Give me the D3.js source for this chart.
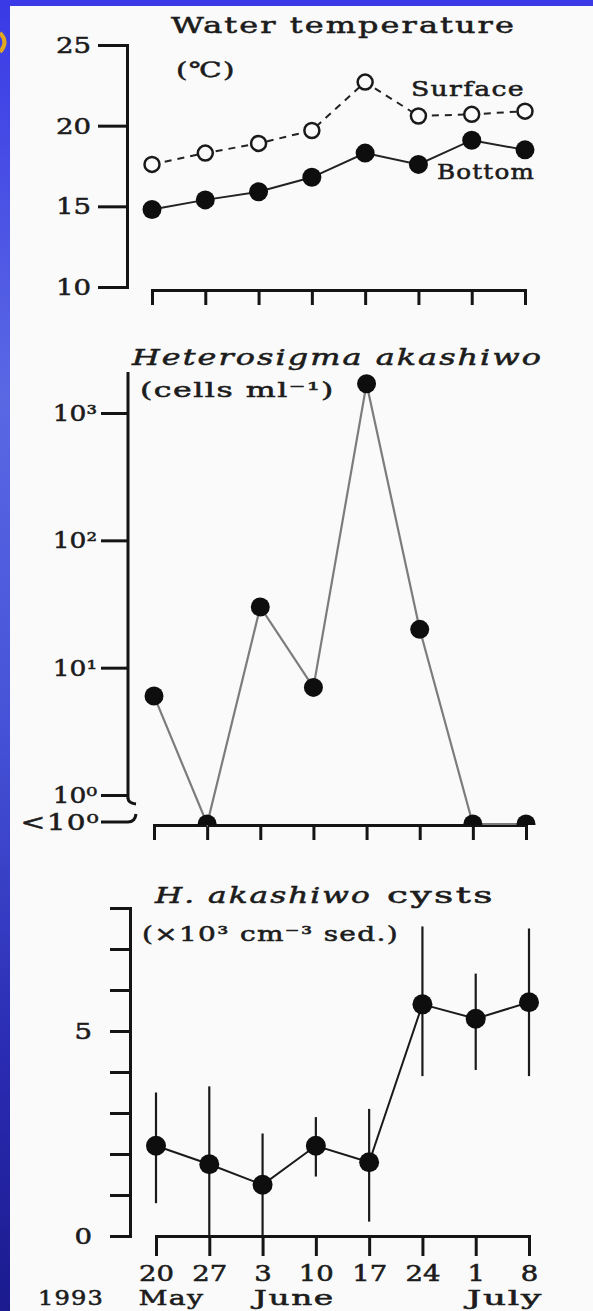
<html>
<head>
<script src="https://cdn.jsdelivr.net/npm/d3@7"></script>
<style>
    body { margin: 0; background: #2c34d4; }
    svg { display: block; }
    text { font-family: 'DejaVu Serif', serif; fill: #1c1c1c; stroke: #1c1c1c; stroke-width: 0.55px; }
    .axis path, .axis line { stroke: #141414; stroke-width: 3; fill: none; }
    .axis text { font-family: 'DejaVu Serif', serif; font-size: 23px; fill: #1c1c1c; stroke: #1c1c1c; stroke-width: 0.55px; }
    .title { font-size: 23px; letter-spacing: 1.5px; }
    .italic { font-style: italic; }
    .unit { font-size: 21px; letter-spacing: 1px; }
</style>
</head>
<body>
<svg id='fig' width=593 height=1311></svg>
<script>

    // ---- data ----
    var dates = ['20', '27', '3', '10', '17', '24', '1', '8'];
    var months = [{name: 'May', at: 0, w: 66}, {name: 'June', at: 2, w: 81}, {name: 'July', at: 6, w: 76}];

    var surfaceTemp = [17.6, 18.3, 18.9, 19.7, 22.7, 20.6, 20.7, 20.9];
    var bottomTemp  = [14.8, 15.4, 15.9, 16.8, 18.3, 17.6, 19.1, 18.5];
    var tempTicks   = [10, 15, 20, 25];

    // 0 means "< 10^0" (plotted on the axis)
    var cellCounts = [6, 0, 30, 7, 1700, 20, 0, 0];
    var cellTicks  = [1, 10, 100, 1000];
    var cellLabels = ['10⁰', '10¹', '10²', '10³'];

    var cystMean = [2.2, 1.75, 1.25, 2.2, 1.8, 5.65, 5.3, 5.7];
    var cystHigh = [3.5, 3.65, 2.5, 2.9, 3.1, 7.55, 6.4, 7.5];
    var cystLow  = [0.8, 0, 0, 1.45, 0.35, 3.9, 4.05, 3.9];
    var cystTicks = d3.range(0, 9);

    var svg = d3.select('#fig');

    // slide background + white sheet
    var grad = svg.append('defs').append('linearGradient')
        .attr('id', 'bg').attr('x1', 0).attr('y1', 0).attr('x2', 0).attr('y2', 1);
    [['0', '#3a3ae6'], ['0.3', '#5a68e4'], ['0.55', '#4653d8'], ['0.8', '#2a2cb4'], ['1', '#1b1b8e']]
        .forEach(function(s) { grad.append('stop').attr('offset', s[0]).attr('stop-color', s[1]); });
    svg.append('rect').attr('width', 593).attr('height', 1311).attr('fill', 'url(#bg)');
    svg.append('rect').attr('x', 10).attr('y', 6).attr('width', 583).attr('height', 1305).attr('fill', '#fafafa');
    svg.append('path').attr('d', 'M0,33 Q9,42 0,52').attr('fill', 'none')
        .attr('stroke', '#e0a820').attr('stroke-width', 4);

    // the original uses a wide mincho face: stretch glyphs horizontally
    function label(x, y, txt, cls, width, anchor) {
        var t = svg.append('text').attr('class', cls)
            .attr('text-anchor', anchor || 'start').text(txt);
        var k = width / t.node().getComputedTextLength();
        t.attr('transform', 'translate(' + x + ',' + y + ') scale(' + k + ',1)');
        return t;
    }
    function widen(sel, k) {
        sel.each(function() {
            var t = d3.select(this);
            var x = +t.attr('x') || 0, y = +t.attr('y') || 0;
            t.attr('x', 0).attr('y', 0)
             .attr('transform', 'translate(' + x + ',' + y + ') scale(' + k + ',1)');
        });
    }

    // ================= panel 1 : water temperature =================
    var xTemp = d3.scaleLinear().domain([0, 7]).range([152, 525]);
    var yTemp = d3.scaleLinear().domain([10, 25]).range([287, 45]);

    var yAx1 = svg.append('g').attr('class', 'axis').attr('transform', 'translate(127,0)')
        .call(d3.axisLeft(yTemp).tickValues(tempTicks).tickSize(29).tickPadding(7));
    widen(yAx1.selectAll('text'), 1.2);

    svg.append('g').attr('class', 'axis').attr('transform', 'translate(0,290)')
        .call(d3.axisBottom(xTemp).tickValues(d3.range(8)).tickSize(15).tickFormat(''));

    var lineT = d3.line().x(function(d, i) { return xTemp(i); }).y(function(d) { return yTemp(d); });

    svg.append('path').datum(surfaceTemp).attr('d', lineT)
        .attr('fill', 'none').attr('stroke', '#222').attr('stroke-width', 2).attr('stroke-dasharray', '7,6');
    svg.append('path').datum(bottomTemp).attr('d', lineT)
        .attr('fill', 'none').attr('stroke', '#222').attr('stroke-width', 2);

    svg.selectAll('.surf').data(surfaceTemp).enter().append('circle').attr('class', 'surf')
        .attr('cx', function(d, i) { return xTemp(i); })
        .attr('cy', function(d) { return yTemp(d); })
        .attr('r', 7.5).attr('fill', '#fafafa').attr('stroke', '#1a1a1a').attr('stroke-width', 2.5);
    svg.selectAll('.bot').data(bottomTemp).enter().append('circle').attr('class', 'bot')
        .attr('cx', function(d, i) { return xTemp(i); })
        .attr('cy', function(d) { return yTemp(d); })
        .attr('r', 9.5).attr('fill', '#0e0e0e');

    label(171, 33, 'Water temperature', 'title', 345);
    label(176, 77, '(℃)', 'unit', 60);
    label(411, 96, 'Surface', 'unit', 114);
    label(437, 179, 'Bottom', 'unit', 98);

    // ================= panel 2 : Heterosigma akashiwo =================
    var xCell = d3.scaleLinear().domain([0, 7]).range([154, 526]);
    var yCell = d3.scaleLog().domain([1, 2100]).range([795, 372]);
    var floorY = 825;

    var yAx2 = svg.append('g').attr('class', 'axis').attr('transform', 'translate(128,0)')
        .call(d3.axisLeft(yCell).tickValues(cellTicks).tickSize(27).tickPadding(4)
            .tickFormat(function(d, i) { return cellLabels[i]; }));
    yAx2.select('.domain').attr('d', 'M0,' + yCell.range()[1] + 'V' + (yCell(1) + 4));
    widen(yAx2.selectAll('text'), 1.15);

    // axis break marks
    svg.append('path')
        .attr('d', 'M128,' + (yCell(1) + 3) + 'q0,5 8,6')
        .attr('fill', 'none').attr('stroke', '#141414').attr('stroke-width', 3);
    svg.append('path')
        .attr('d', 'M101,' + (floorY - 3) + 'H128q7,0 8,-8')
        .attr('fill', 'none').attr('stroke', '#141414').attr('stroke-width', 3);
    label(100, floorY + 5, '<10⁰', 'unit', 73, 'end').style('font-size', '23px');

    svg.append('g').attr('class', 'axis').attr('transform', 'translate(0,' + floorY + ')')
        .call(d3.axisBottom(xCell).tickValues(d3.range(8)).tickSize(15).tickFormat(''));

    var cellY = function(d) { return d > 0 ? yCell(d) : floorY - 1; };

    svg.append('path').datum(cellCounts)
        .attr('d', d3.line().x(function(d, i) { return xCell(i); }).y(cellY))
        .attr('fill', 'none').attr('stroke', '#7c7c7c').attr('stroke-width', 2.2);

    svg.append('clipPath').attr('id', 'aboveFloor').append('rect')
        .attr('x', 0).attr('y', 0).attr('width', 593).attr('height', floorY);

    svg.append('g').attr('clip-path', 'url(#aboveFloor)')
        .selectAll('circle').data(cellCounts).enter().append('circle')
        .attr('cx', function(d, i) { return xCell(i); })
        .attr('cy', cellY)
        .attr('r', 9.5).attr('fill', '#0e0e0e');

    label(132, 365, 'Heterosigma akashiwo', 'title italic', 411);
    label(140, 397, '(cells ml⁻¹)', 'unit', 195);

    // ================= panel 3 : cysts =================
    var xCyst = d3.scaleLinear().domain([0, 7]).range([156, 529]);
    var yCyst = d3.scaleLinear().domain([0, 8]).range([1236, 908]);

    var yAx3 = svg.append('g').attr('class', 'axis').attr('transform', 'translate(130,0)')
        .call(d3.axisLeft(yCyst).tickValues(cystTicks).tickSize(20).tickPadding(18)
            .tickFormat(function(d) { return d % 5 === 0 ? d : ''; }));
    widen(yAx3.selectAll('text'), 1.2);

    var xAx3 = svg.append('g').attr('class', 'axis').attr('transform', 'translate(0,1236)')
        .call(d3.axisBottom(xCyst).tickValues(d3.range(8)).tickSize(20).tickPadding(9)
            .tickFormat(function(d) { return dates[d]; }));
    xAx3.selectAll('text').style('font-size', '22px');
    widen(xAx3.selectAll('text'), 1.25);

    svg.selectAll('.err').data(cystMean).enter().append('line').attr('class', 'err')
        .attr('x1', function(d, i) { return xCyst(i); })
        .attr('x2', function(d, i) { return xCyst(i); })
        .attr('y1', function(d, i) { return yCyst(cystLow[i]); })
        .attr('y2', function(d, i) { return yCyst(cystHigh[i]); })
        .attr('stroke', '#1a1a1a').attr('stroke-width', 2.2);

    svg.append('path').datum(cystMean)
        .attr('d', d3.line().x(function(d, i) { return xCyst(i); }).y(function(d) { return yCyst(d); }))
        .attr('fill', 'none').attr('stroke', '#1a1a1a').attr('stroke-width', 2);

    svg.selectAll('.cyst').data(cystMean).enter().append('circle').attr('class', 'cyst')
        .attr('cx', function(d, i) { return xCyst(i); })
        .attr('cy', function(d) { return yCyst(d); })
        .attr('r', 10).attr('fill', '#0e0e0e');

    label(155, 903, 'H. akashiwo', 'title italic', 217);
    label(387, 903, 'cysts', 'title', 108);
    label(142, 941, '(×10³ cm⁻³ sed.)', 'unit', 257);

    // date labels: year + months
    var dateNodes = xAx3.selectAll('.tick text').nodes();
    label(38, 1305, '1993', 'unit', 66);
    months.forEach(function(m) {
        var node = dateNodes[m.at];
        var half = node.getComputedTextLength() * 1.25 / 2;
        label(xCyst(m.at) - half, 1305, m.name, 'unit', m.w);
    });

</script>
</body>
</html>
